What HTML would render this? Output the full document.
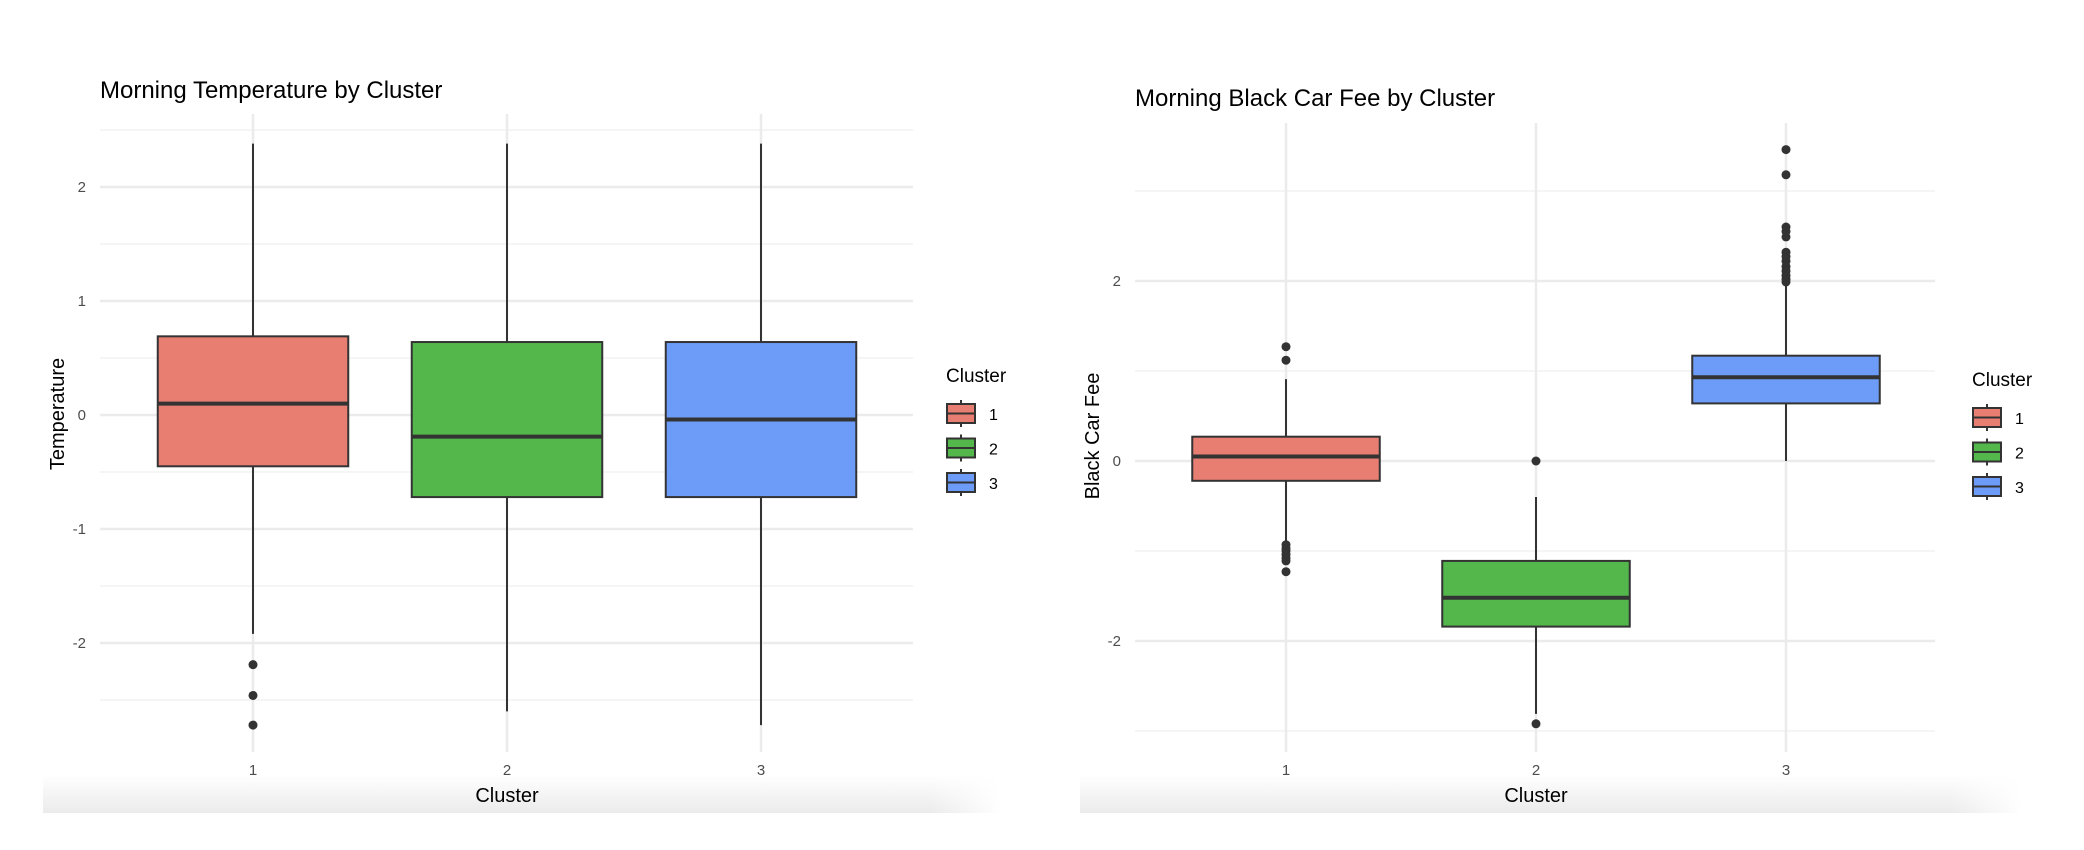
<!DOCTYPE html>
<html><head><meta charset="utf-8">
<style>
html,body{margin:0;padding:0;background:#fff;}
svg{display:block;font-family:"Liberation Sans",Arial,sans-serif;}
</style></head>
<body>
<svg id="chart" width="2084" height="850" viewBox="0 0 2084 850">
<defs>
<linearGradient id="bandV" x1="0" y1="0" x2="0" y2="1">
<stop offset="0" stop-color="#ffffff"/><stop offset="1" stop-color="#ebebeb"/>
</linearGradient>
<linearGradient id="fadeH" x1="0" y1="0" x2="1" y2="0">
<stop offset="0" stop-color="#fff" stop-opacity="0"/><stop offset="1" stop-color="#fff" stop-opacity="1"/>
</linearGradient>
</defs>
</svg>
<script>
// Panel 1 data: Morning Temperature
const categories = ["1","2","3"];
const tempQ1 = [-0.45, -0.72, -0.72];
const tempMedian = [0.10, -0.19, -0.04];
const tempQ3 = [0.69, 0.64, 0.64];
const tempLow = [-1.92, -2.60, -2.72];
const tempHigh = [2.38, 2.38, 2.38];
const tempOutliers = [[-2.19, -2.46, -2.72], [], []];
const tempTicks = [-2, -1, 0, 1, 2];
const tempTickLabels = ["-2", "-1", "0", "1", "2"];
const tempMinor = [-2.5, -1.5, -0.5, 0.5, 1.5, 2.5];

// Panel 2 data: Morning Black Car Fee
const feeQ1 = [-0.22, -1.84, 0.64];
const feeMedian = [0.05, -1.52, 0.93];
const feeQ3 = [0.27, -1.11, 1.17];
const feeLow = [-0.90, -2.81, 0.0];
const feeHigh = [0.91, -0.40, 1.99];
const feeOutliers = [
  [1.27, 1.12, -0.93, -0.97, -1.00, -1.04, -1.08, -1.11, -1.23],
  [0.0, -2.92],
  [3.46, 3.18, 2.60, 2.55, 2.49, 2.32, 2.27, 2.22, 2.16, 2.11, 2.06, 2.02, 1.99]
];
const feeTicks = [-2, 0, 2];
const feeTickLabels = ["-2", "0", "2"];
const feeMinor = [-3, -1, 1, 3];

const colors = ["#E87D72", "#53B74C", "#6D9CF8"];
const NS = "http://www.w3.org/2000/svg";
const svg = document.getElementById("chart");
function mk(tag, attrs, parent) {
  const e = document.createElementNS(NS, tag);
  for (const k in attrs) e.setAttribute(k, attrs[k]);
  (parent || svg).appendChild(e);
  return e;
}

function panel(cfg) {
  const g = mk("g", {});
  
  
  const y = v => cfg.y0 - v * cfg.unit;
  const x = i => cfg.x1 + i * cfg.step;
  // bottom band
  const band = mk("rect", {x: cfg.bandX0, y: 775, width: cfg.bandX1 - cfg.bandX0, height: 38, fill: "url(#bandV)"}, g);
  
  
  mk("rect", {x: cfg.bandX1 - 70, y: 774, width: 72, height: 40, fill: "url(#fadeH)"}, g);
  // grid
  cfg.minor.forEach(v => {
    const l = mk("line", {x1: cfg.gx0, x2: cfg.gx1, y1: y(v), y2: y(v), stroke: "#f2f2f2", "stroke-width": 1.5}, g);
    
    
  });
  cfg.ticks.forEach((v, i) => {
    const l = mk("line", {x1: cfg.gx0, x2: cfg.gx1, y1: y(v), y2: y(v), stroke: "#ebebeb", "stroke-width": 2.5}, g);
    
    
    const t = mk("text", {x: cfg.gx0 - 14, y: y(v) + 5, "text-anchor": "end", "font-size": 15, fill: "#4d4d4d"}, g);
    t.textContent = cfg.tickLabels[i];
    
    
  });
  categories.forEach((c, i) => {
    const l = mk("line", {x1: x(i), x2: x(i), y1: cfg.gy0, y2: 752, stroke: "#ebebeb", "stroke-width": 2.5}, g);
    
    
    const t = mk("text", {x: x(i), y: 775, "text-anchor": "middle", "font-size": 15, fill: "#4d4d4d"}, g);
    t.textContent = c;
    
    
  });
  // boxes
  categories.forEach((c, i) => {
    const bg = mk("g", {}, g);
    
    
    const w = cfg.step * 0.75;
    mk("line", {x1: x(i), x2: x(i), y1: y(cfg.high[i]), y2: y(cfg.q3[i]), stroke: "#333", "stroke-width": 2}, bg);
    mk("line", {x1: x(i), x2: x(i), y1: y(cfg.q1[i]), y2: y(cfg.low[i]), stroke: "#333", "stroke-width": 2}, bg);
    mk("rect", {x: x(i) - w / 2, y: y(cfg.q3[i]), width: w, height: y(cfg.q1[i]) - y(cfg.q3[i]), fill: colors[i], stroke: "#333", "stroke-width": 2}, bg);
    mk("line", {x1: x(i) - w / 2, x2: x(i) + w / 2, y1: y(cfg.med[i]), y2: y(cfg.med[i]), stroke: "#333", "stroke-width": 4}, bg);
    cfg.out[i].forEach(v => {
      const p = mk("circle", {cx: x(i), cy: y(v), r: 4.5, fill: "#333"}, bg);
      
      
    });
  });
  // titles
  const tt = mk("text", {x: cfg.titleX, y: cfg.titleY, "font-size": 24, fill: "#000"}, g);
  tt.textContent = cfg.title;
  
  
  const xt = mk("text", {x: x(1), y: 802, "text-anchor": "middle", "font-size": 20, fill: "#000"}, g);
  xt.textContent = "Cluster";
  
  
  const yt = mk("text", {x: 0, y: 0, "text-anchor": "middle", "font-size": 20, fill: "#000", transform: `translate(${cfg.yTitleX},${cfg.yTitleY}) rotate(-90)`}, g);
  yt.textContent = cfg.yTitle;
  
  
  // legend
  const lg = mk("g", {}, g);
  
  
  const lt = mk("text", {x: cfg.legX, y: cfg.legY, "font-size": 19, fill: "#000"}, lg);
  lt.textContent = "Cluster";
  
  
  categories.forEach((c, i) => {
    const e = mk("g", {}, lg);
    
    
    const ky = cfg.legY + 22 + i * 34.5;
    const kx = cfg.legX + 1;
    mk("line", {x1: kx + 14, x2: kx + 14, y1: ky - 4, y2: ky + 23, stroke: "#333", "stroke-width": 2}, e);
    mk("rect", {x: kx, y: ky, width: 28, height: 19, fill: colors[i], stroke: "#333", "stroke-width": 2}, e);
    mk("line", {x1: kx, x2: kx + 28, y1: ky + 9.5, y2: ky + 9.5, stroke: "#333", "stroke-width": 2}, e);
    const lb = mk("text", {x: kx + 42, y: ky + 16, "font-size": 16, fill: "#000"}, e);
    lb.textContent = c;
  });
}

panel({name: "temperature-panel", title: "Morning Temperature by Cluster", titleX: 100, titleY: 98,
  yTitle: "Temperature", yTitleX: 64, yTitleY: 414,
  y0: 415, unit: 114, x1: 253, step: 254, gx0: 100, gx1: 913, gy0: 114,
  ticks: tempTicks, tickLabels: tempTickLabels, minor: tempMinor,
  q1: tempQ1, med: tempMedian, q3: tempQ3, low: tempLow, high: tempHigh, out: tempOutliers,
  legX: 946, legY: 382, bandX0: 43, bandX1: 1000});

panel({name: "black-car-fee-panel", title: "Morning Black Car Fee by Cluster", titleX: 1135, titleY: 106,
  yTitle: "Black Car Fee", yTitleX: 1099, yTitleY: 436,
  y0: 461, unit: 90, x1: 1286, step: 250, gx0: 1135, gx1: 1935, gy0: 123,
  ticks: feeTicks, tickLabels: feeTickLabels, minor: feeMinor,
  q1: feeQ1, med: feeMedian, q3: feeQ3, low: feeLow, high: feeHigh, out: feeOutliers,
  legX: 1972, legY: 386, bandX0: 1080, bandX1: 2020});
</script>
</body></html>
